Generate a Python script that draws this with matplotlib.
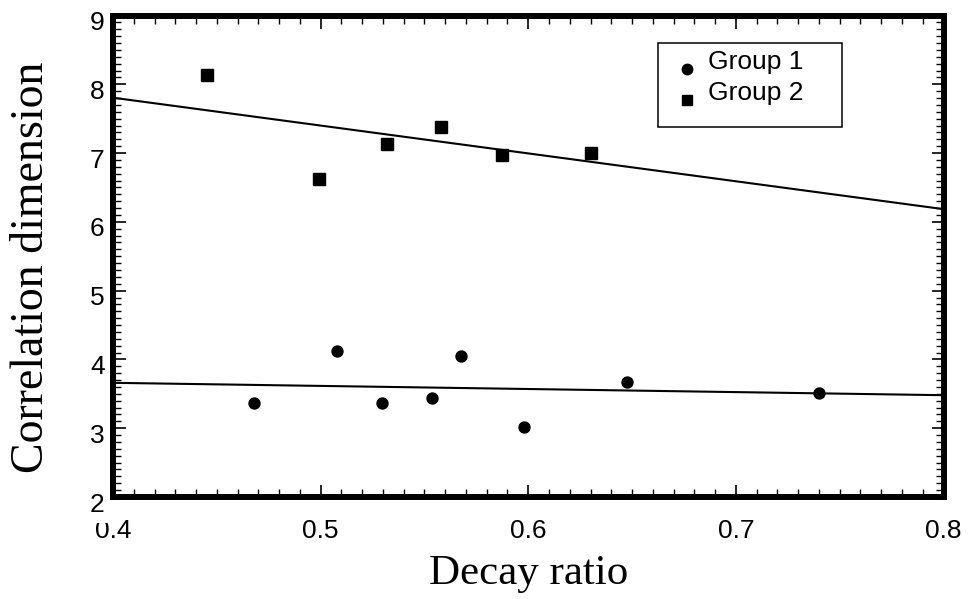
import matplotlib
matplotlib.use("Agg")
import matplotlib.pyplot as plt
from matplotlib.patches import Rectangle
from matplotlib.transforms import ScaledTranslation
from matplotlib.ticker import MultipleLocator

# data
g1_x = [0.468, 0.508, 0.5295, 0.5535, 0.5675, 0.598, 0.6475, 0.740]
g1_y = [3.37, 4.12, 3.37, 3.435, 4.05, 3.02, 3.675, 3.505]
g2_x = [0.4453, 0.499, 0.532, 0.558, 0.5875, 0.630]
g2_y = [8.14, 6.62, 7.135, 7.375, 6.965, 7.00]

# fitted lines (end points at the axis limits)
fit_x = [0.4, 0.8]
fit1_y = [3.66, 3.48]
fit2_y = [7.805, 6.185]

labels = ["Group 1", "Group 2"]
xticks = [0.4, 0.5, 0.6, 0.7, 0.8]
yticks = [2, 3, 4, 5, 6, 7, 8, 9]

sans = "Liberation Sans"
serif = "Liberation Serif"

fig = plt.figure(figsize=(9.72, 5.99), dpi=100)
ax = fig.add_axes([113 / 972, 1 - 497 / 599, (943.5 - 113) / 972, (497 - 15.5) / 599])

ax.plot(fit_x, fit1_y, color="black", lw=1.5, zorder=2)
ax.plot(fit_x, fit2_y, color="black", lw=1.5, zorder=2)
ax.plot(g1_x, g1_y, "o", color="black", ms=7.9, zorder=3)
ax.plot(g2_x, g2_y, "s", color="black", ms=8.2, zorder=3)

ax.set_xlim(0.4, 0.8)
ax.set_ylim(2, 9)
ax.set_xticks(xticks)
ax.set_xticklabels([f"{v:g}" for v in xticks], fontfamily=sans, fontsize=19)
ax.set_yticks(yticks)
ax.set_yticklabels([str(v) for v in yticks], fontfamily=sans, fontsize=19, va="baseline")
ax.xaxis.set_minor_locator(MultipleLocator(0.01))
ax.yaxis.set_minor_locator(MultipleLocator(0.1))
ax.tick_params(which="both", direction="in", top=True, right=True, color="black")
ax.tick_params(which="major", length=9, width=1.2)
ax.tick_params(which="minor", length=5.5, width=1.0)
ax.tick_params(axis="x", which="major", pad=15.5)
ax.tick_params(axis="y", which="major", pad=6)

for sp in ax.spines.values():
    sp.set_linewidth(4.3)

# y tick labels sit a little below their ticks in the reference
off = ScaledTranslation(0, -0.145, fig.dpi_scale_trans)
for lab in ax.get_yticklabels():
    lab.set_transform(lab.get_transform() + off)

# the "2" label's background clips the top of "0.4" in the reference
fig.patches.append(Rectangle((86 / 972, 1 - 523 / 599), 22 / 972, 9 / 599,
                             transform=fig.transFigure, facecolor="white",
                             edgecolor="none", zorder=5))

ax.set_xlabel("Decay ratio", fontfamily=serif, fontsize=31)
ax.xaxis.set_label_coords(0.5, -0.12)
ax.set_ylabel("Correlation dimension", fontfamily=serif, fontsize=33)
ax.yaxis.set_label_coords(-0.0725, 0.478)

# legend box
ax.add_patch(Rectangle((0.656, 0.768), 0.222, 0.175, transform=ax.transAxes,
                       facecolor="white", edgecolor="black", lw=1.1, zorder=4))
ax.plot([0.691], [0.889], "o", color="black", ms=7.5, transform=ax.transAxes, zorder=5, clip_on=False)
ax.plot([0.691], [0.8245], "s", color="black", ms=7.2, transform=ax.transAxes, zorder=5, clip_on=False)
ax.text(0.716, 0.889, labels[0], transform=ax.transAxes, fontfamily=sans, fontsize=19,
        va="baseline", ha="left", zorder=5)
ax.text(0.716, 0.8245, labels[1], transform=ax.transAxes, fontfamily=sans, fontsize=19,
        va="baseline", ha="left", zorder=5)

fig.savefig("out.png", dpi=100)
